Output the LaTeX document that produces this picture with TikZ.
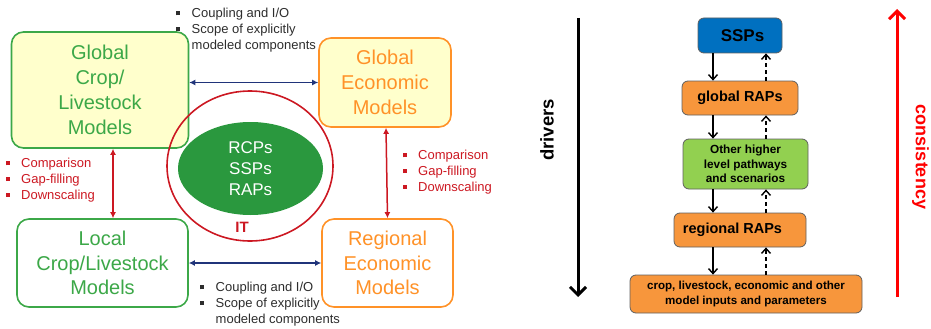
\documentclass[tikz,border=0pt]{standalone}
\usepackage{fontspec}
\setmainfont{Liberation Sans}
\usetikzlibrary{arrows.meta,shapes.geometric,calc}

\definecolor{cropgreen}{RGB}{60,168,72}
\definecolor{econorange}{RGB}{255,146,40}
\definecolor{paleyellow}{RGB}{255,255,204}
\definecolor{scengreen}{RGB}{42,152,62}
\definecolor{linknavy}{RGB}{32,52,122}
\definecolor{linkred}{RGB}{204,24,34}
\definecolor{notegray}{RGB}{45,45,45}
\definecolor{sspblue}{RGB}{0,112,192}
\definecolor{rapfill}{RGB}{247,150,60}
\definecolor{pathgreen}{RGB}{146,208,80}
\definecolor{edgegray}{RGB}{95,95,95}
\definecolor{brightred}{RGB}{255,0,0}

\newcommand{\sqbul}{\rule[2.3pt]{4pt}{4pt}}

\begin{document}
\begin{tikzpicture}[x=1pt,y=-1pt,
  modelbox/.style={draw, line width=1.6pt, rounded corners=12pt, align=center,
    inner sep=0pt, font=\fontsize{20}{24.8}\selectfont},
  cropbox/.style={modelbox, draw=cropgreen, text=cropgreen},
  econbox/.style={modelbox, draw=econorange, text=econorange},
  notes/.style={anchor=north west, inner sep=0pt, font=\fontsize{13}{15.7}\selectfont},
  linkarrow/.style={line width=1.5pt, {Latex[length=6pt,width=6pt]}-{Latex[length=6pt,width=6pt]}},
  stagebox/.style={draw=edgegray, line width=0.8pt, rounded corners=6pt, align=center,
    inner sep=0pt, font=\bfseries},
  downflow/.style={line width=1.4pt, -{Straight Barb[length=5pt,width=9pt]}},
  upflow/.style={line width=1.4pt, dash pattern=on 4pt off 3pt, -{Straight Barb[length=5pt,width=9pt]}},
  bigarrow/.style={line width=3pt, -{Straight Barb[length=8pt,width=16pt]}},
]
\useasboundingbox (0,0) rectangle (931,329);

% ---------- left: model coupling ----------
\node[cropbox, fill=paleyellow, minimum width=177pt, minimum height=116pt] (gcrop) at (100,90)
  {Global\\Crop/\\Livestock\\Models};
\node[econbox, fill=paleyellow, minimum width=132pt, minimum height=89pt] (gecon) at (385,82.5)
  {Global\\Economic\\Models};
\node[cropbox, fill=white, minimum width=171pt, minimum height=88pt] (lcrop) at (102.5,263)
  {Local\\Crop/Livestock\\Models};
\node[econbox, fill=white, minimum width=131pt, minimum height=88pt] (recon) at (387.5,263)
  {Regional\\Economic\\Models};

% shared scenarios
\node[ellipse, fill=scengreen, minimum width=145pt, minimum height=93pt, inner sep=0pt,
  text=white, align=center, font=\fontsize{17}{21}\selectfont] (scen) at (250.5,168.5)
  {RCPs\\SSPs\\RAPs};
\node[ellipse, draw=linkred, line width=1.6pt, minimum width=166pt, minimum height=150pt] (itring) at (250,166) {};
\node[text=linkred, font=\fontsize{15}{18}\selectfont\bfseries, inner sep=0pt] (it) at (242,227) {IT};

% links between models
\draw[linkarrow, linknavy] (gcrop.east |- gecon.west) -- (gecon.west);
\draw[linkarrow, linknavy] (lcrop.east) -- (recon.west);
\draw[linkarrow, linkred] ([xshift=13pt]gcrop.south) -- ([xshift=13pt]gcrop.south |- lcrop.north);
\draw[linkarrow, linkred] ([xshift=1pt]gecon.south) -- (recon.north);

% notes on the links
\node[notes, text=notegray] (ntop) at (176,6.6)
  {\begin{tabular}{@{}l@{\hspace{11.5pt}}l@{}}
   \sqbul & Coupling and I/O\\
   \sqbul & Scope of explicitly\\
          & modeled components
   \end{tabular}};
\node[notes, text=notegray] (nbot) at (200,280.6)
  {\begin{tabular}{@{}l@{\hspace{11.5pt}}l@{}}
   \sqbul & Coupling and I/O\\
   \sqbul & Scope of explicitly\\
          & modeled components
   \end{tabular}};
\node[notes, text=linkred] (nleft) at (6,156.6)
  {\begin{tabular}{@{}l@{\hspace{11pt}}l@{}}
   \sqbul & Comparison\\
   \sqbul & Gap-filling\\
   \sqbul & Downscaling
   \end{tabular}};
\node[notes, text=linkred] (nright) at (403,148.6)
  {\begin{tabular}{@{}l@{\hspace{11pt}}l@{}}
   \sqbul & Comparison\\
   \sqbul & Gap-filling\\
   \sqbul & Downscaling
   \end{tabular}};

% ---------- right: scenario hierarchy ----------
\node[stagebox, fill=sspblue, minimum width=84pt, minimum height=35pt,
  font=\fontsize{17}{20}\selectfont\bfseries] (ssp) at (740,35.5) {\hspace*{5pt}SSPs};
\node[stagebox, fill=rapfill, minimum width=116pt, minimum height=34pt,
  font=\fontsize{14.5}{17}\selectfont\bfseries] (grap) at (740,98) {global RAPs};
\node[stagebox, fill=pathgreen, minimum width=125pt, minimum height=50pt,
  font=\fontsize{11.8}{14.7}\selectfont\bfseries] (other) at (745.5,164)
  {Other higher\\level pathways\\and scenarios};
\node[stagebox, fill=rapfill, minimum width=132pt, minimum height=34pt,
  font=\fontsize{14.5}{17}\selectfont\bfseries] (rrap) at (740,230) {regional RAPs\hspace*{15pt}};
\node[stagebox, fill=rapfill, minimum width=232pt, minimum height=38pt,
  font=\fontsize{11.6}{15}\selectfont\bfseries] (inputs) at (746,294)
  {crop, livestock, economic and other\\model inputs and parameters};

\coordinate (dn) at (713,0);
\coordinate (up) at (766,0);
\foreach \a/\b in {ssp/grap, grap/other, other/rrap, rrap/inputs}{
  \draw[downflow] (\a.south -| dn) -- (\b.north -| dn);
  \draw[upflow] (\b.north -| up) -- (\a.south -| up);
}

% drivers and consistency
\coordinate (drvtop) at (578,18);
\coordinate (drvbot) at (578,297);
\draw[bigarrow, black] (drvtop) -- (drvbot);
\node[rotate=90, font=\fontsize{18.5}{22}\selectfont\bfseries, inner sep=0pt] (drv) at (547,130) {drivers};

\coordinate (conbot) at (897,297);
\coordinate (contop) at (897,9);
\draw[bigarrow, brightred] (conbot) -- (contop);
\node[rotate=-90, text=brightred, font=\fontsize{18}{21}\selectfont\bfseries, inner sep=0pt] (con) at (920.5,157) {consistency};
\end{tikzpicture}
\end{document}
